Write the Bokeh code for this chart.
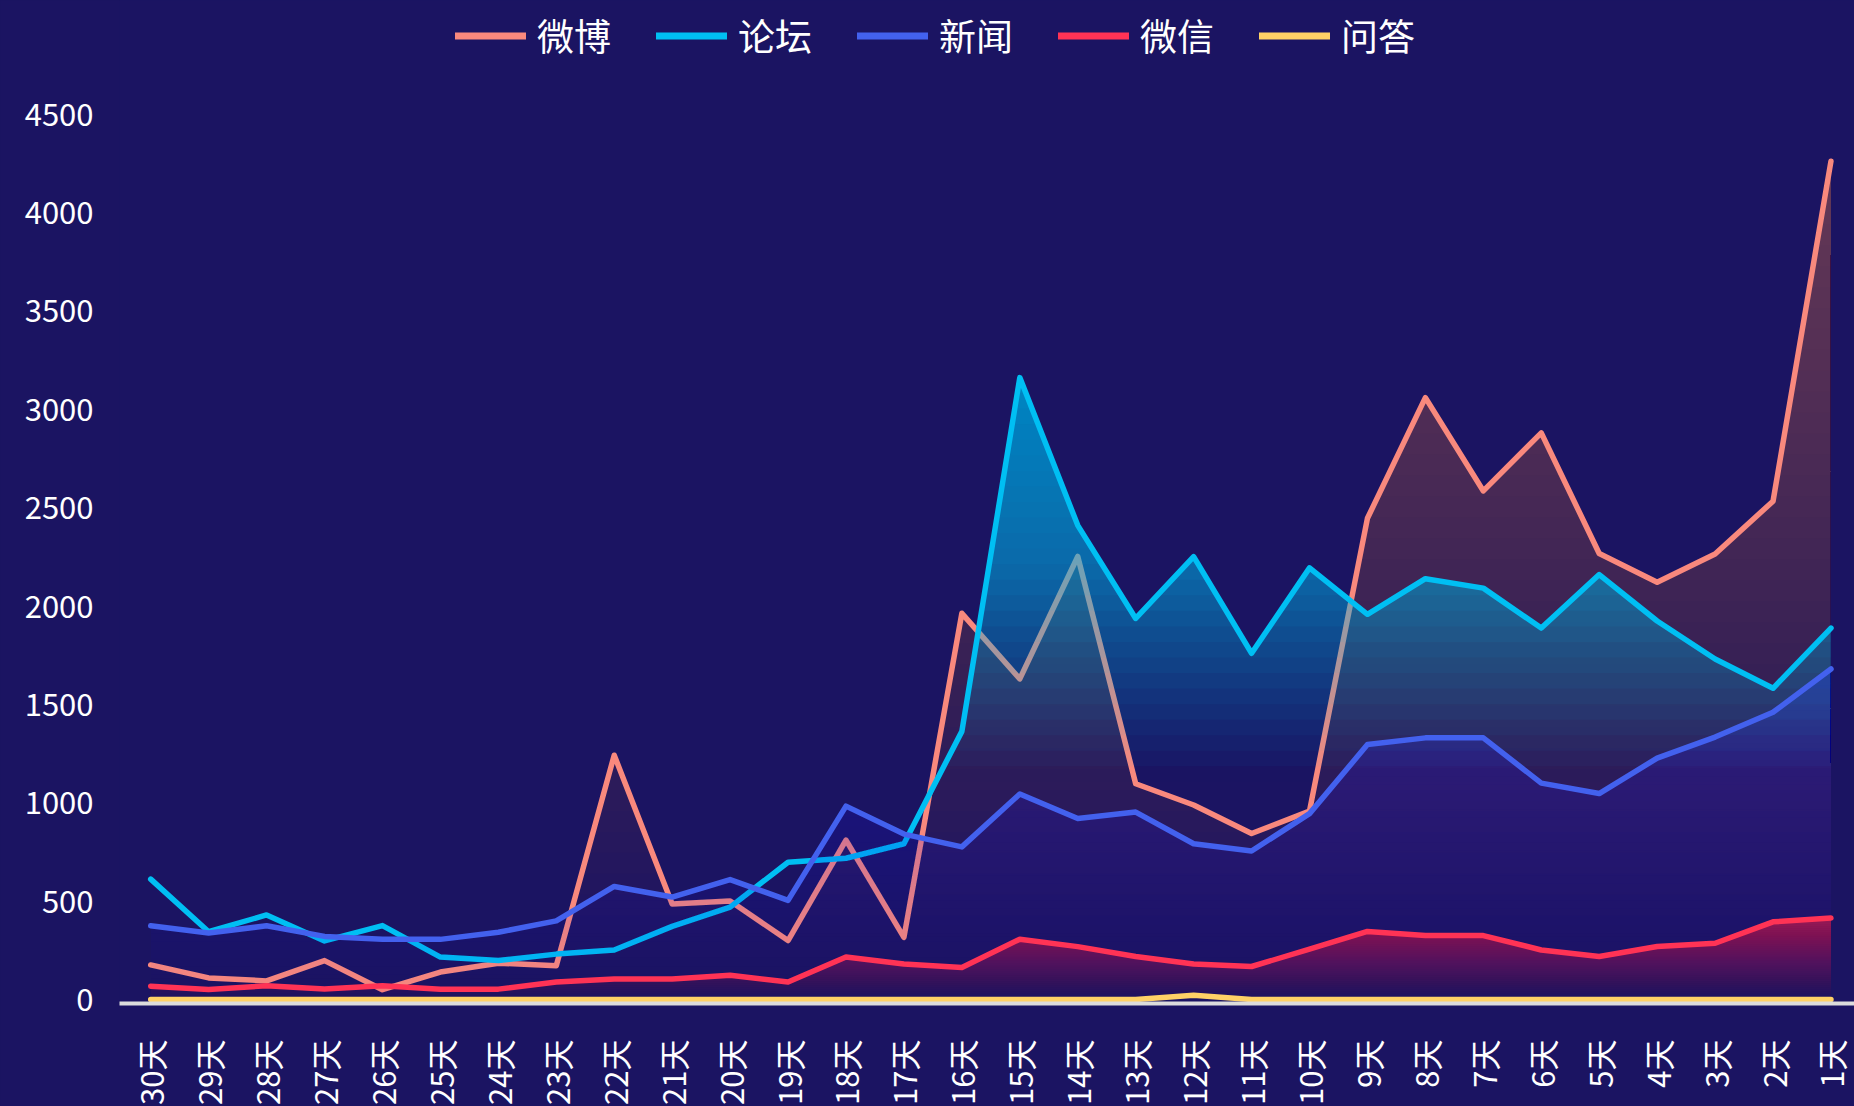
import math
import numpy as np
from bokeh.plotting import figure
from bokeh.models import Range1d, FixedTicker, Legend, LegendItem
from bokeh.embed import file_html
from bokeh.resources import INLINE

# ---------------- data ----------------
days = ["30天", "29天", "28天", "27天", "26天", "25天", "24天", "23天", "22天", "21天",
        "20天", "19天", "18天", "17天", "16天", "15天", "14天", "13天", "12天", "11天",
        "10天", "9天", "8天", "7天", "6天", "5天", "4天", "3天", "2天", "1天"]

weibo = [176, 110, 95, 198, 50, 140, 185, 172, 1242, 486, 501, 300, 810, 316, 1963, 1630, 2252,
         1097, 989, 844, 958, 2446, 3059, 2585, 2880, 2267, 2121, 2264, 2533, 4261]
luntan = [612, 345, 430, 298, 376, 216, 198, 231, 252, 372, 470, 698, 718, 792, 1363, 3161, 2410,
          1937, 2251, 1760, 2194, 1958, 2139, 2091, 1888, 2160, 1924, 1731, 1582, 1888]
xinwen = [375, 338, 375, 321, 306, 306, 342, 400, 575, 521, 610, 504, 983, 841, 776, 1045, 920,
          953, 792, 755, 945, 1296, 1330, 1330, 1100, 1047, 1227, 1334, 1460, 1680]
weixin = [68, 51, 70, 54, 70, 53, 53, 89, 105, 105, 124, 89, 216, 181, 163, 307, 269, 219, 181, 168,
          256, 346, 325, 325, 252, 219, 270, 286, 395, 414]
wenda = [0, 0, 0, 0, 0, 0, 0, 0, 0, 0, 0, 0, 0, 0, 0, 0, 0, 0, 22, 0,
         0, 0, 0, 0, 0, 0, 0, 0, 0, 0]

series_names = ["微博", "论坛", "新闻", "微信", "问答"]
y_ticks = [0, 500, 1000, 1500, 2000, 2500, 3000, 3500, 4000, 4500]

# ---------------- styles ----------------
BG = "#1b1462"
FONT = "Noto Sans CJK SC"
colors = ["#f9897d", "#00bff3", "#4361ee", "#ff3355", "#ffd166"]
# vertical alpha profile of each area: (fraction of series max, alpha)
profiles = [
    [(0.0, 0.0), (1.0, 0.38)],
    [(0.0, 0.0), (0.36, 0.0), (0.70, 0.54), (1.0, 0.72)],
    [(0.0, 0.0), (1.0, 0.40)],
    [(0.0, 0.0), (1.0, 0.62)],
    None,
]

p = figure(width=1854, height=1106, frame_width=1735, frame_height=1003,
           x_range=Range1d(-0.5385, 29.406), y_range=Range1d(-20, 5077.5),
           output_backend="svg", toolbar_location=None,
           min_border_left=119, min_border_right=0, min_border_top=0, min_border_bottom=103,
           background_fill_color=BG, border_fill_color=BG,
           outline_line_color=None)
p.styles = {"background-color": BG}

p.xgrid.visible = False
p.ygrid.visible = False

xs = np.arange(len(days), dtype=float)


def gradient_area(values, color, prof, n=40):
    vals = np.asarray(values, dtype=float)
    top = vals.max()
    fr = [s[0] for s in prof]
    al = [s[1] for s in prof]
    ts = np.linspace(0.0, top, n + 1)
    prev = 0.0
    for j in range(n):
        t = ts[j]
        mid = 0.5 * (ts[j] + ts[j + 1]) / top
        c = float(np.interp(mid, fr, al))
        a = 1.0 - (1.0 - c) / (1.0 - prev) if c > prev else 0.0
        prev = max(prev, c)
        if a <= 1e-4:
            continue
        px, py = [], []
        for i in range(len(vals)):
            px.append(xs[i])
            py.append(max(vals[i], t))
            if i < len(vals) - 1:
                f0, f1 = vals[i], vals[i + 1]
                if (f0 - t) * (f1 - t) < 0:
                    px.append(xs[i] + (t - f0) / (f1 - f0) * (xs[i + 1] - xs[i]))
                    py.append(t)
        p.varea(x=px, y1=t, y2=py, fill_color=color, fill_alpha=a)


all_series = [weibo, luntan, xinwen, weixin, wenda]
for vals, col, prof in zip(all_series, colors, profiles):
    if prof is not None:
        gradient_area(vals, col, prof)
    p.line(xs, vals, line_color=col, line_width=5.5, line_join="round", line_cap="round")

# legend with dummy (never-drawn) renderers so the icon can be thicker
items = []
for name, col in zip(series_names, colors):
    r = p.line(x=[0.0, 1.0], y=[np.nan, np.nan], line_color=col, line_width=7, line_cap="round")
    items.append(LegendItem(label=name, renderers=[r]))
legend = Legend(items=items, orientation="horizontal", location=(336, 941),
                glyph_width=71, glyph_height=49, label_standoff=11, spacing=45,
                padding=0, margin=0, border_line_alpha=0, background_fill_alpha=0,
                label_text_color="#ffffff", label_text_font=FONT, label_text_font_size="37px",
                label_text_baseline="middle")
p.add_layout(legend, "center")

# x axis
xa = p.xaxis[0]
xa.ticker = FixedTicker(ticks=list(range(len(days))))
xa.major_label_overrides = {i: d for i, d in enumerate(days)}
xa.major_label_orientation = math.pi / 2
xa.major_label_text_font = FONT
xa.major_label_text_font_size = "31px"
xa.major_label_text_color = "#ffffff"
xa.major_label_standoff = 30
xa.major_tick_line_color = None
xa.minor_tick_line_color = None
xa.axis_line_color = "#dcdcdc"
xa.axis_line_width = 4

# y axis
ya = p.yaxis[0]
ya.ticker = FixedTicker(ticks=y_ticks)
ya.major_label_text_font = FONT
ya.major_label_text_font_size = "31px"
ya.major_label_text_color = "#ffffff"
ya.major_label_standoff = 20
ya.major_tick_line_color = None
ya.minor_tick_line_color = None
ya.axis_line_color = None

open("out.html", "w").write(file_html(p, INLINE))
